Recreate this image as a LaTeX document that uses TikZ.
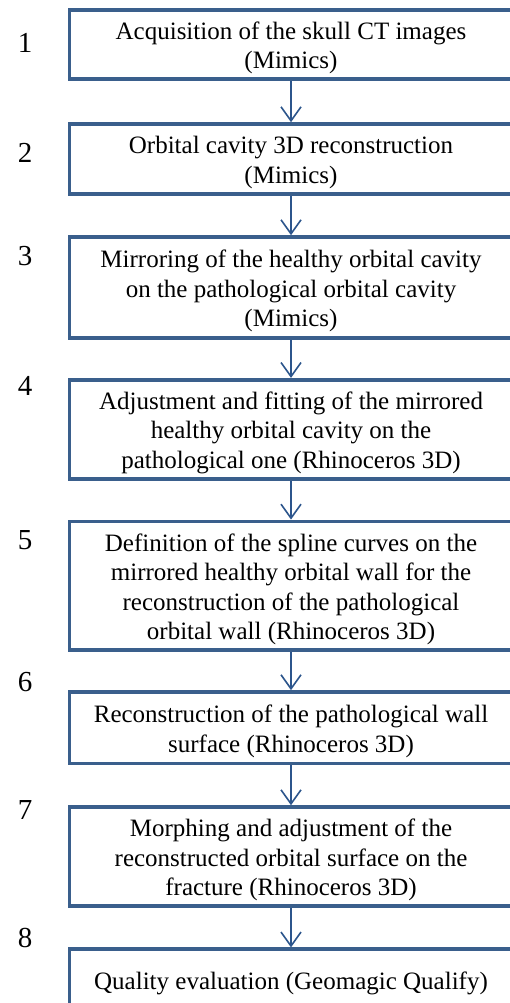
\documentclass[tikz,border=0pt]{standalone}
\usepackage{fontspec}
\setmainfont{Liberation Serif}
\usetikzlibrary{arrows.meta}
\definecolor{boxblue}{RGB}{58,95,140}
\definecolor{arrblue}{RGB}{44,85,140}
\tikzset{
  stepbox/.style={draw=boxblue, line width=3.6pt, fill=white, minimum width=443pt,
    inner sep=0pt},
  steptext/.style={inner sep=0pt, align=center, font=\fontsize{25}{29.5}\selectfont},
  numlabel/.style={font=\fontsize{29}{30}\selectfont, inner sep=0pt},
  flow/.style={draw=arrblue, line width=1.6pt,
    -{Straight Barb[length=14pt,width=20pt,line width=1.6pt]}}
}
\begin{document}
\begin{tikzpicture}[x=1pt,y=-1pt]
\useasboundingbox (0,0) rectangle (510,1003);
\clip (0,0) rectangle (510,1003);
\fill[white] (0,0) rectangle (510,1003);
\node[stepbox, minimum height=69pt] (b1) at (291,44.5) {};
\node[stepbox, minimum height=70pt] (b2) at (291,159) {};
\node[stepbox, minimum height=101pt] (b3) at (291,287.5) {};
\node[stepbox, minimum height=99pt] (b4) at (291,429.2) {};
\node[stepbox, minimum height=128.7pt] (b5) at (291,585.7) {};
\node[stepbox, minimum height=71.7pt] (b6) at (291,727.8) {};
\node[stepbox, minimum height=99pt] (b7) at (291,856.5) {};
\node[stepbox, minimum height=61pt] (b8) at (291,979.7) {};
\node[steptext] (t1) at ([yshift=-3.5pt]b1.center) {Acquisition of the skull CT images\\(Mimics)};
\node[steptext] (t2) at ([yshift=-3.5pt]b2.center) {Orbital cavity 3D reconstruction\\(Mimics)};
\node[steptext] (t3) at ([yshift=-3.5pt]b3.center) {Mirroring of the healthy orbital cavity\\on the pathological orbital cavity\\(Mimics)};
\node[steptext] (t4) at ([yshift=-3.5pt]b4.center) {Adjustment and fitting of the mirrored\\healthy orbital cavity on the\\pathological one (Rhinoceros 3D)};
\node[steptext] (t5) at ([yshift=-3.5pt]b5.center) {Definition of the spline curves on the\\mirrored healthy orbital wall for the\\reconstruction of the pathological\\orbital wall (Rhinoceros 3D)};
\node[steptext] (t6) at ([yshift=-3.5pt]b6.center) {Reconstruction of the pathological wall\\surface (Rhinoceros 3D)};
\node[steptext] (t7) at ([yshift=-3.5pt]b7.center) {Morphing and adjustment of the\\reconstructed orbital surface on the\\fracture (Rhinoceros 3D)};
\node[steptext] (t8) at ([yshift=-3.5pt]b8.center) {Quality evaluation (Geomagic Qualify)};
\node[numlabel] (n1) at (25,43) {1};
\node[numlabel] (n2) at (25,153) {2};
\node[numlabel] (n3) at (25,256) {3};
\node[numlabel] (n4) at (25,385.5) {4};
\node[numlabel] (n5) at (25,540) {5};
\node[numlabel] (n6) at (25,682.5) {6};
\node[numlabel] (n7) at (25,810) {7};
\node[numlabel] (n8) at (25,938) {8};
\draw[flow] (b1.south) -- (b2.north);
\draw[flow] (b2.south) -- (b3.north);
\draw[flow] (b3.south) -- (b4.north);
\draw[flow] (b4.south) -- (b5.north);
\draw[flow] (b5.south) -- (b6.north);
\draw[flow] (b6.south) -- (b7.north);
\draw[flow] (b7.south) -- (b8.north);
\end{tikzpicture}
\end{document}
